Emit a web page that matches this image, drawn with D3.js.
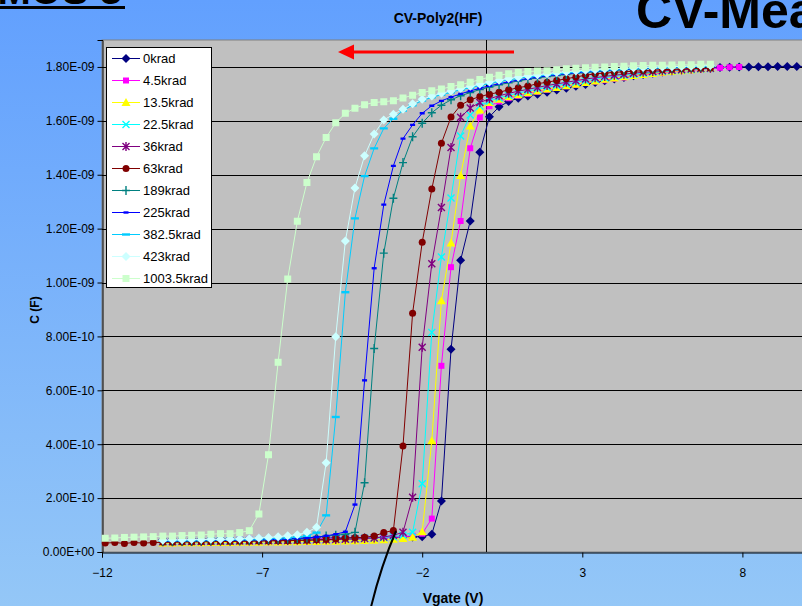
<!DOCTYPE html>
<html>
<head>
<meta charset="utf-8">
<script src="https://cdn.jsdelivr.net/npm/d3@7"></script>
<style>
  body { margin: 0; overflow: hidden; }
  text { font-family: "Liberation Sans", Arial, sans-serif; }
</style>
</head>
<body>
<div id="vis"></div>
<script>
// gate voltage sweep (V), shared by every series
var vgate = [-11.9, -11.6, -11.3, -11, -10.7, -10.4, -10.1, -9.8, -9.5, -9.2,
  -8.9, -8.6, -8.3, -8, -7.7, -7.4, -7.1, -6.8, -6.5, -6.2,
  -5.9, -5.6, -5.3, -5, -4.7, -4.4, -4.1, -3.8, -3.5, -3.2,
  -2.9, -2.6, -2.3, -2, -1.7, -1.4, -1.1, -0.8, -0.5, -0.2,
  0.1, 0.4, 0.7, 1, 1.3, 1.6, 1.9, 2.2, 2.5, 2.8,
  3.1, 3.4, 3.7, 4, 4.3, 4.6, 4.9, 5.2, 5.5, 5.8,
  6.1, 6.4, 6.7, 7, 7.3, 7.6, 7.9, 8.2, 8.5, 8.8,
  9.1, 9.4, 9.7, 10];

var seriesNames = ["0krad", "4.5krad", "13.5krad", "22.5krad", "36krad", "63krad",
  "189krad", "225krad", "382.5krad", "423krad", "1003.5krad"];

// index into vgate of the first point of each series
var seriesStart = [6, 6, 6, 6, 6, 0, 6, 6, 6, 6, 0];

// capacitance values in pF (1800 pF = 1.80E-09 F)
var c0krad = [46,46,46,47,47,47,48,48,48,49,49,49,50,50,50,51,51,51,52,52,53,53,54,54,55,56,56,57,
  66,189,752,1083,1228,1483,1615,
  1652,1672,1684,1692,1699,1706,1714,1721,1728,1735,1742,1749,1755,1761,1767,1772,1777,1781,1785,
  1789,1792,1794,1796,1798,1799,1800,1800,1801,1801,1802,1802,1802,1802];
var c4_5krad = [44,44,45,45,45,46,46,46,46,47,47,47,48,48,48,49,49,50,50,51,51,52,53,54,55,57,60,68,
  124,691,1057,1228,1498,1612,1654,
  1672,1684,1693,1701,1708,1715,1722,1728,1734,1740,1746,1751,1756,1761,1766,1770,1774,1778,1782,
  1785,1788,1791,1794,1797,1799,1800];
var c13_5krad = [33,33,34,34,34,35,35,35,36,36,36,37,37,38,38,39,39,40,40,41,42,43,44,45,47,50,55,
  75,413,932,1147,1397,1581,1640,1668,
  1680,1689,1697,1704,1711,1718,1724,1730,1736,1742,1748,1754,1759,1764,1768,1772,1776,1780,1783,
  1786,1789,1792,1795];
var c22_5krad = [40,40,41,41,41,42,42,42,43,43,44,44,45,45,46,46,47,47,48,49,50,51,52,54,57,62,
  73,253,815,1095,1314,1544,1622,1655,1673,
  1685,1695,1703,1711,1718,1725,1731,1737,1743,1749,1755,1760,1765,1769,1773,1777,1780,1783,1786,
  1788,1790,1792,1794];
var c36krad = [38,38,39,39,39,40,40,40,41,41,42,42,43,43,44,44,45,45,46,47,48,50,52,56,62,
  73,203,760,1070,1278,1501,1613,1648,1668,1682,
  1693,1702,1710,1717,1724,1731,1737,1743,1749,1755,1760,1765,1769,1773,1777,1780,1783,1786,1788,
  1790,1792,1794,1795];
var c63krad = [33,35,32,35,33,35,36,36,37,37,38,38,39,39,40,40,41,41,42,42,43,44,45,46,48,51,53,55,59,72,
  80,393,886,1149,1347,1517,1614,1658,1678,1690,1699,1706,1715,1723,1729,1738,1743,1750,1756,1763,
  1769,1775,1777,1780,1782,1784,1786,1788,1790,1791,1793,1794,1795,1796];
var c189krad = [40,40,41,41,42,42,43,43,44,44,45,46,47,48,50,52,55,59,62,66,
  73,257,755,1109,1313,1445,1541,1591,
  1630,1658,1678,1693,1705,1716,1725,1734,1741,1748,1754,1759,1764,1768,1772,
  1776,1779,1782,1785,1787,1789,1791,1793,1795,1796,1797,1798,1799,1800,1801];
var c225krad = [40,41,41,42,42,43,43,44,44,45,45,46,47,48,50,52,55,60,66,
  75,176,637,1053,1289,1433,1534,1585,1628,
  1656,1674,1688,1700,1711,1721,1730,1738,1745,1751,1757,1762,1767,1771,1775,
  1778,1781,1784,1787,1789,1791,1793,1795,1796,1797,1798,1799,1800,1801,1802];
var c382_5krad = [42,43,43,44,44,45,45,46,47,47,48,50,51,53,56,60,
  72,136,501,964,1238,1395,1498,1572,1608,1638,1658,1675,
  1687,1697,1706,1715,1723,1731,1739,1746,1752,1758,1763,1767,1771,1775,1778,
  1781,1784,1787,1789,1791,1793,1795,1796,1797,1798,1799,1800,1801,1802,1803];
var c423krad = [44,45,45,46,46,47,47,48,49,50,52,54,57,60,64,
  73,92,331,799,1154,1351,1470,1551,1603,1624,1643,1663,1680,
  1692,1702,1711,1720,1728,1736,1744,1751,1757,1762,1767,1771,1775,1779,1782,
  1785,1788,1790,1792,1794,1796,1797,1798,1799,1800,1801,1802,1803,1804,1805];
var c1003_5krad = [51,52,54,55,56,57,59,59,61,62,63,66,68,68,72,
  79,141,361,704,1013,1227,1371,1467,1538,1593,1628,1647,1660,1668,1671,1675,1685,1695,1705,
  1712,1718,1727,1734,1743,1753,1762,1769,1775,1779,1783,1785,1786,1790,1793,
  1795,1797,1799,1800,1802,1803,1804,1805,1806,1806,1807,1808,1808,1810,1810];

var seriesValues = [c0krad, c4_5krad, c13_5krad, c22_5krad, c36krad, c63krad,
  c189krad, c225krad, c382_5krad, c423krad, c1003_5krad];

var xTicks = [-12, -7, -2, 3, 8];
var yTicks = [0, 200, 400, 600, 800, 1000, 1200, 1400, 1600, 1800];

// look of each series (Excel default palette)
var seriesStyle = [
  {color: "#000080", marker: "diamond"},
  {color: "#ff00ff", marker: "square"},
  {color: "#ffff00", marker: "triangle"},
  {color: "#00ffff", marker: "x"},
  {color: "#800080", marker: "star"},
  {color: "#800000", marker: "circle"},
  {color: "#008080", marker: "plus"},
  {color: "#0000ff", marker: "dash"},
  {color: "#00ccff", marker: "longdash"},
  {color: "#ccffff", marker: "diamond"},
  {color: "#ccffcc", marker: "bigsquare"}
];

var markerShapes = {
  diamond:   {d: "M0,-4.5L4.5,0L0,4.5L-4.5,0Z", stroke: false},
  square:    {d: "M-3,-3h6v6h-6Z", stroke: false},
  bigsquare: {d: "M-3.5,-3.5h7v7h-7Z", stroke: false},
  triangle:  {d: "M0,-4.5L4.5,3.5L-4.5,3.5Z", stroke: false},
  x:         {d: "M-3.5,-3.5L3.5,3.5M-3.5,3.5L3.5,-3.5", stroke: true},
  star:      {d: "M-3.5,-3.5L3.5,3.5M-3.5,3.5L3.5,-3.5M0,-4.5L0,4.5", stroke: true},
  circle:    {d: "M3.5,0A3.5,3.5 0 1 1 -3.5,0A3.5,3.5 0 1 1 3.5,0Z", stroke: false},
  plus:      {d: "M-4,0L4,0M0,-4.5L0,4.5", stroke: true},
  dash:      {d: "M-2.5,-1.2h5v2.4h-5Z", stroke: false},
  longdash:  {d: "M-4,-1.2h8v2.4h-8Z", stroke: false}
};

function sci(v) {
  var p = (v * 1e-12).toExponential(2).split("e");
  var e = +p[1];
  return p[0] + "E" + (e < 0 ? "-" : "+") + (Math.abs(e) < 10 ? "0" : "") + Math.abs(e);
}

function drawMarker(sel, style) {
  var m = markerShapes[style.marker];
  sel.attr("d", m.d)
    .attr("fill", m.stroke ? "none" : style.color)
    .attr("stroke", m.stroke ? style.color : "none")
    .attr("stroke-width", m.stroke ? 1.4 : 0);
}

var width = 802, height = 606;

var svg = d3.select("#vis").append("svg")
  .attr("width", width)
  .attr("height", height);

// background gradient
var defs = svg.append("defs");
var grad = defs.append("linearGradient").attr("id", "bg")
  .attr("x1", 0).attr("y1", 0).attr("x2", 0).attr("y2", 1);
grad.append("stop").attr("offset", "0%").attr("stop-color", "#62a0fe");
grad.append("stop").attr("offset", "100%").attr("stop-color", "#94c7f7");
svg.append("rect").attr("width", width).attr("height", height).attr("fill", "url(#bg)");

// slide text, cut by the frame
svg.append("text").attr("x", 122).attr("y", 4).attr("text-anchor", "end")
  .attr("font-size", 40).attr("font-weight", "bold").text("nMOS 3");
svg.append("rect").attr("x", 0).attr("y", 6).attr("width", 125).attr("height", 3).attr("fill", "#000");
svg.append("text").attr("x", 636).attr("y", 28)
  .attr("font-size", 50).attr("font-weight", "bold").text("CV-Measurement");

var plot = {left: 102, top: 40, bottom: 552, right: 902.5};

var x = d3.scaleLinear().domain([-12, 13]).range([plot.left, plot.right]);
var y = d3.scaleLinear().domain([0, 1900]).range([plot.bottom, plot.top]);

svg.append("rect")
  .attr("x", plot.left).attr("y", plot.top)
  .attr("width", plot.right - plot.left).attr("height", plot.bottom - plot.top)
  .attr("fill", "#c0c0c0").attr("stroke", "#808080");

// horizontal grid
svg.append("g").selectAll("line")
  .data(yTicks.slice(1))
  .enter().append("line")
  .attr("x1", plot.left).attr("x2", plot.right)
  .attr("y1", function(d) { return Math.round(y(d)) + 0.5; })
  .attr("y2", function(d) { return Math.round(y(d)) + 0.5; })
  .attr("stroke", "#000").attr("stroke-width", 1);

// value axis crossing at Vgate = 0
svg.append("line")
  .attr("x1", Math.round(x(0)) + 0.5).attr("x2", Math.round(x(0)) + 0.5)
  .attr("y1", plot.top).attr("y2", plot.bottom)
  .attr("stroke", "#000");

// axes
var yAxis = svg.append("g")
  .attr("transform", "translate(" + (plot.left + 0.5) + ",0)")
  .call(d3.axisLeft(y).tickValues(yTicks).tickSize(5).tickPadding(3).tickFormat(sci));
var xAxis = svg.append("g")
  .attr("transform", "translate(0," + (plot.bottom + 0.5) + ")")
  .call(d3.axisBottom(x).tickValues(xTicks).tickSize(5).tickPadding(11).tickFormat(d3.format("d")));
[xAxis, yAxis].forEach(function(a) {
  a.selectAll("text").attr("font-size", 12).attr("fill", "#000")
    .style("font-family", "'Liberation Sans', Arial, sans-serif");
  a.selectAll("line,path").attr("stroke", "#000");
});

// series
var clip = defs.append("clipPath").attr("id", "plotClip");
clip.append("rect").attr("x", plot.left - 5).attr("y", plot.top)
  .attr("width", plot.right - plot.left + 5).attr("height", plot.bottom - plot.top);

var seriesG = svg.append("g").attr("clip-path", "url(#plotClip)");

seriesValues.forEach(function(vals, i) {
  var pts = vals.map(function(c, j) { return {v: vgate[seriesStart[i] + j], c: c}; });
  var style = seriesStyle[i];
  var g = seriesG.append("g");
  g.append("path")
    .datum(pts)
    .attr("fill", "none")
    .attr("stroke", style.color)
    .attr("stroke-width", 1)
    .attr("d", d3.line().x(function(d) { return x(d.v); }).y(function(d) { return y(d.c); }));
  g.selectAll(".mk")
    .data(pts)
    .enter().append("path")
    .attr("class", "mk")
    .attr("transform", function(d) { return "translate(" + x(d.v) + "," + y(d.c) + ")"; })
    .call(drawMarker, style);
});

// titles
svg.append("text").attr("x", 438).attr("y", 23).attr("text-anchor", "middle")
  .attr("font-size", 14).attr("font-weight", "bold").text("CV-Poly2(HF)");
svg.append("text").attr("x", 453).attr("y", 603).attr("text-anchor", "middle")
  .attr("font-size", 14).attr("font-weight", "bold").text("Vgate (V)");
svg.append("text").attr("transform", "translate(39,310) rotate(-90)").attr("text-anchor", "middle")
  .attr("font-size", 12).attr("font-weight", "bold").text("C (F)");

// legend
var legend = svg.append("g");
legend.append("rect")
  .attr("x", 106.5).attr("y", 47.5).attr("width", 105).attr("height", 240)
  .attr("fill", "#fff").attr("stroke", "#000");
seriesNames.forEach(function(name, i) {
  var ly = 58.5 + 22 * i;
  legend.append("line").attr("x1", 112).attr("x2", 140).attr("y1", ly).attr("y2", ly)
    .attr("stroke", seriesStyle[i].color);
  legend.append("path").attr("transform", "translate(126," + ly + ")").call(drawMarker, seriesStyle[i]);
  legend.append("text").attr("x", 143).attr("y", ly).attr("dy", "0.35em")
    .attr("font-size", 13).text(name);
});

// red arrow
svg.append("line").attr("x1", 514).attr("x2", 350).attr("y1", 52).attr("y2", 52)
  .attr("stroke", "#ff0000").attr("stroke-width", 3);
svg.append("path").attr("d", "M338,52L354,44.5L354,59.5Z").attr("fill", "#ff0000");

// black pointer line
svg.append("path").attr("d", "M371,607Q381,566 396,531")
  .attr("fill", "none").attr("stroke", "#000").attr("stroke-width", 2);
</script>
</body>
</html>
